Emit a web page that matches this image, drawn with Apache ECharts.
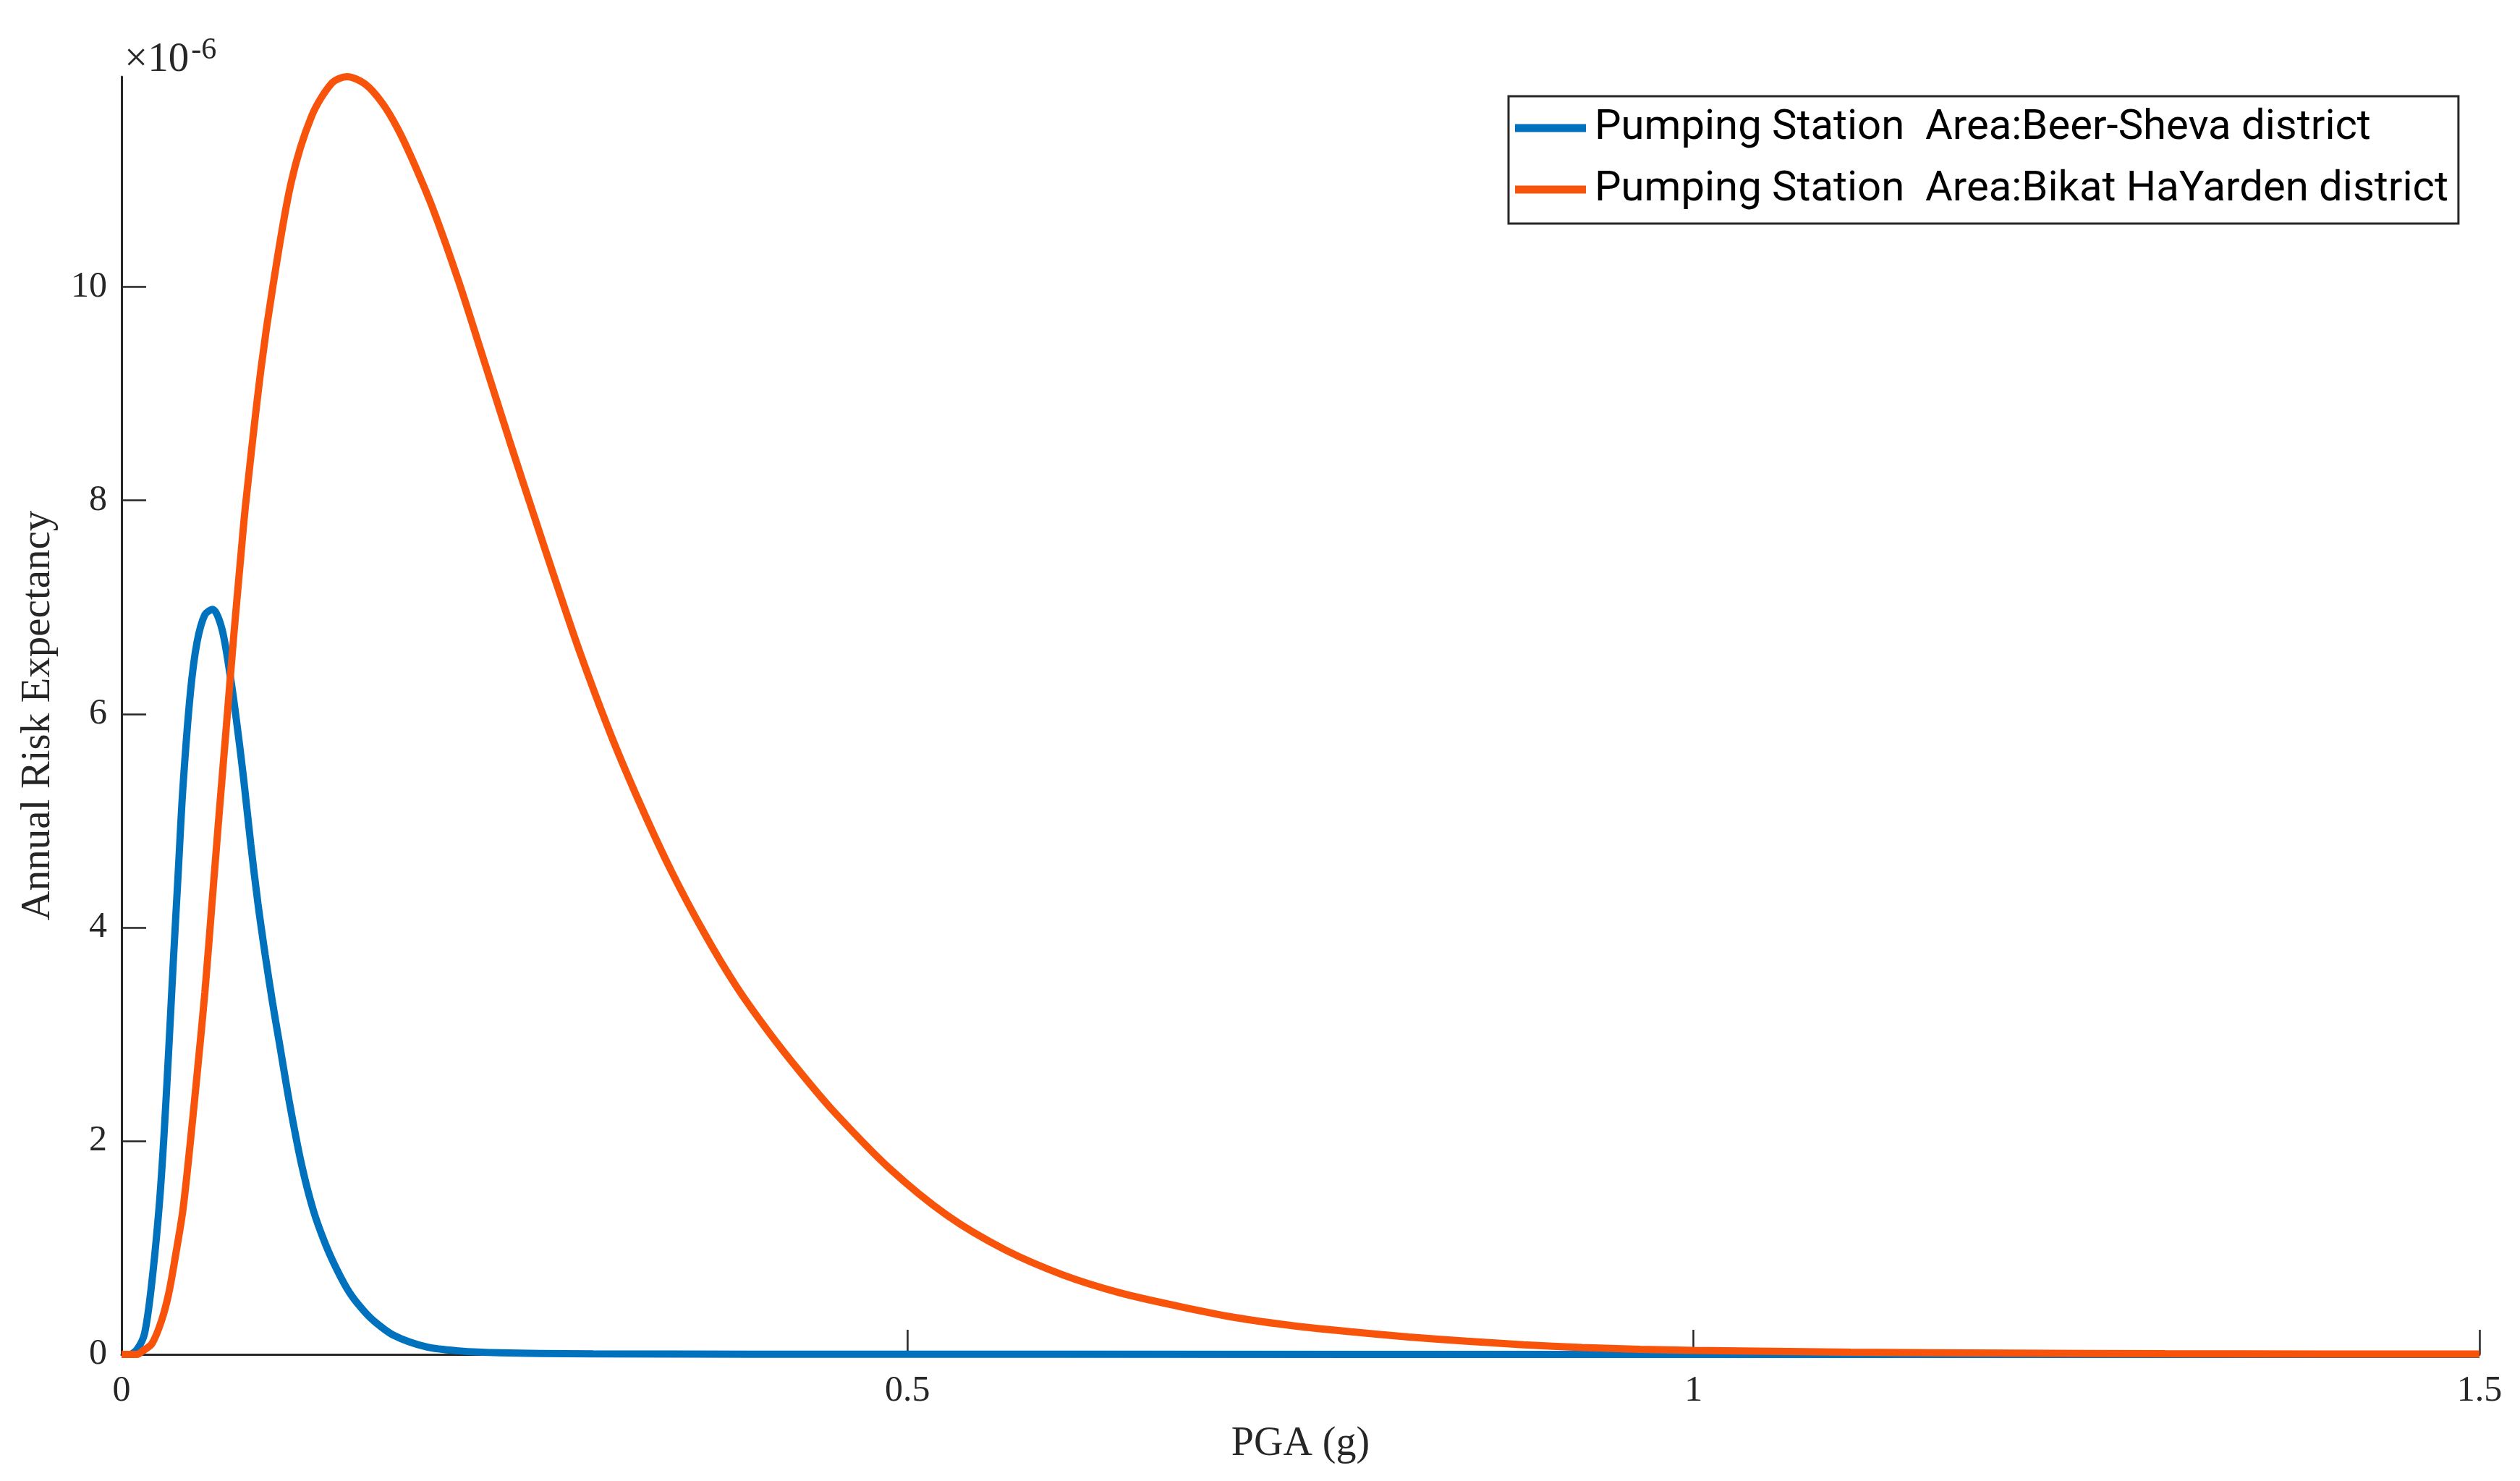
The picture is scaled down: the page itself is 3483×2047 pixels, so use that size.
<!DOCTYPE html>
<html>
<head>
<meta charset="utf-8">
<title>Annual Risk Expectancy vs PGA</title>
<script src="https://cdn.jsdelivr.net/npm/echarts@6/dist/echarts.min.js"></script>
<style>
  html, body { margin: 0; padding: 0; background: #fff; }
  #chart { width: 3483px; height: 2047px; }
</style>
</head>
<body>
<div id="chart"></div>
<script>
// PGA (g) sample points and annual risk expectancy (units of 1e-6)
const beerShevaPga = [0, 0.005, 0.010, 0.0147, 0.0193, 0.024, 0.027, 0.030, 0.033, 0.036, 0.039, 0.0438, 0.048, 0.053, 0.058,
  0.0638, 0.0692, 0.073, 0.0776, 0.0822, 0.0868, 0.0914, 0.096, 0.1006, 0.1068, 0.1145, 0.122, 0.1298, 0.1375, 0.145,
  0.1528, 0.160, 0.173, 0.194, 0.2145, 0.241, 0.30, 0.40, 0.60, 1.0, 1.5]
const beerShevaRisk = [0, 0, 0.05, 0.2, 0.68, 1.4, 2.05, 2.85, 3.7, 4.5, 5.3, 6.2, 6.67, 6.93, 6.98,
  6.80, 6.35, 5.95, 5.40, 4.78, 4.22, 3.74, 3.30, 2.90, 2.36, 1.78, 1.35, 1.03, 0.78, 0.58,
  0.43, 0.32, 0.18, 0.07, 0.033, 0.015, 0.005, 0.002, 0.001, 0.0003, 0]

const bikatPga = [0, 0.010, 0.0132, 0.0193, 0.0253, 0.030, 0.0345, 0.039, 0.0437, 0.0483, 0.053, 0.0575, 0.062, 0.0667,
  0.0713, 0.076, 0.0789, 0.0886, 0.0962, 0.1079, 0.1209, 0.1338, 0.1435, 0.155, 0.166, 0.1758, 0.1854, 0.1984, 0.2145,
  0.2306, 0.2468, 0.263, 0.2758, 0.292, 0.3114, 0.3307, 0.350, 0.3706, 0.391, 0.4117, 0.432, 0.4528, 0.4887,
  0.5254, 0.562, 0.5988, 0.6355, 0.672, 0.709, 0.7456, 0.7823, 0.819, 0.8557, 0.892, 0.929, 0.966, 1.0,
  1.1, 1.2, 1.3, 1.4, 1.5]
const bikatRisk = [0, 0, 0.03, 0.1, 0.31, 0.57, 0.94, 1.35, 1.98, 2.66, 3.39, 4.22, 5.05, 5.89,
  6.72, 7.5, 7.96, 9.22, 10.0, 10.98, 11.6, 11.91, 11.97, 11.9, 11.72, 11.48, 11.18, 10.72, 10.05,
  9.31, 8.56, 7.83, 7.26, 6.56, 5.80, 5.13, 4.52, 3.95, 3.45, 3.02, 2.64, 2.28, 1.74,
  1.30, 0.98, 0.745, 0.575, 0.452, 0.344, 0.268, 0.212, 0.163, 0.124, 0.09, 0.064, 0.048, 0.038,
  0.02, 0.012, 0.007, 0.004, 0.003]

const seriesNames = ['Pumping Station  Area:Beer-Sheva district', 'Pumping Station  Area:Bikat HaYarden district']
const xTicks = [0, 0.5, 1, 1.5]
const yTicks = [0, 2, 4, 6, 8, 10]

const axisColor = '#262626'
const serif = '"Liberation Serif", "DejaVu Serif", serif'

const toPoints = (xs, ys) => xs.map((x, i) => [x, ys[i]])

const chart = echarts.init(document.getElementById('chart'))

chart.setOption({
  animation: false,
  backgroundColor: '#fff',
  grid: { left: 168, right: 56, top: 106, bottom: 175 },
  xAxis: {
    type: 'value',
    min: 0,
    max: 1.5,
    name: 'PGA (g)',
    nameLocation: 'middle',
    nameGap: 96,
    nameTextStyle: { fontFamily: serif, fontSize: 56, color: axisColor },
    axisLine: { lineStyle: { color: axisColor, width: 3 } },
    axisTick: { inside: true, length: 34, customValues: xTicks, lineStyle: { color: axisColor, width: 2.5 } },
    axisLabel: { customValues: xTicks, margin: 26, fontFamily: serif, fontSize: 50, color: axisColor },
    splitLine: { show: false }
  },
  yAxis: {
    type: 'value',
    min: 0,
    max: Math.max(...bikatRisk),
    name: 'Annual Risk Expectancy',
    nameLocation: 'middle',
    nameGap: 86,
    nameTextStyle: { fontFamily: serif, fontSize: 57, color: axisColor },
    axisLine: { lineStyle: { color: axisColor, width: 3 } },
    axisTick: { inside: true, length: 34, customValues: yTicks, lineStyle: { color: axisColor, width: 2.5 } },
    axisLabel: { customValues: yTicks, margin: 20, fontFamily: serif, fontSize: 50, color: axisColor },
    splitLine: { show: false }
  },
  legend: {
    orient: 'vertical',
    left: 2085,
    top: 133,
    padding: [15, 14, 18, 9],
    itemGap: 27,
    itemWidth: 98,
    itemHeight: 11,
    icon: 'rect',
    backgroundColor: '#fff',
    borderColor: axisColor,
    borderWidth: 3,
    borderRadius: 0,
    textStyle: {
      fontFamily: 'Roboto, sans-serif',
      fontSize: 58,
      color: '#000',
      padding: [0, 0, 0, 7]
    },
    data: seriesNames
  },
  // MATLAB style exponent label above the y axis
  graphic: [{
    type: 'text',
    left: 172,
    top: 49,
    style: {
      text: '×10{sup|-6}',
      fontFamily: serif,
      fontSize: 57,
      fill: axisColor,
      rich: { sup: { fontFamily: serif, fontSize: 42, fill: axisColor, verticalAlign: 'top', padding: [0, 0, 26, 3] } }
    }
  }],
  series: [
    {
      name: seriesNames[0],
      type: 'line',
      data: toPoints(beerShevaPga, beerShevaRisk),
      showSymbol: false,
      smooth: 0.3,
      color: '#0072BD',
      lineStyle: { width: 10, color: '#0072BD' }
    },
    {
      name: seriesNames[1],
      type: 'line',
      data: toPoints(bikatPga, bikatRisk),
      showSymbol: false,
      smooth: 0.3,
      color: '#F8530B',
      lineStyle: { width: 10, color: '#F8530B' }
    }
  ]
})
</script>
</body>
</html>
